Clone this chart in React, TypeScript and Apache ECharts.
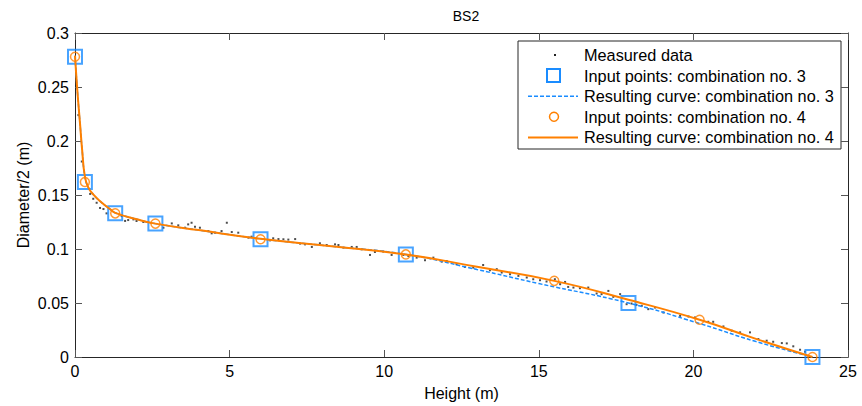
import React, { useEffect, useRef } from "react";
import * as echarts from "echarts";

const xTicks = [0, 5, 10, 15, 20, 25];
const yTicks = [0, 0.05, 0.1, 0.15, 0.2, 0.25, 0.3];

const measured: number[][] = [
  [0.11, 0.224], [0.22, 0.181], [0.49, 0.151], [0.59, 0.1465], [0.7, 0.1428], [0.81, 0.138], [0.92, 0.137], [1.02, 0.133],
  [1.51, 0.1305], [1.62, 0.126], [1.72, 0.1268], [1.89, 0.1274], [1.99, 0.1259], [2.21, 0.125], [2.32, 0.125], [2.86, 0.1197],
  [3.13, 0.1237], [3.34, 0.1219], [3.56, 0.1197], [3.66, 0.1228], [3.77, 0.1243], [3.88, 0.1206], [4.04, 0.1197], [4.31, 0.1166],
  [4.42, 0.1145], [4.53, 0.1151], [4.74, 0.1166], [4.91, 0.1243], [5.07, 0.1157], [5.28, 0.1151], [5.61, 0.1105], [5.71, 0.1114],
  [6.31, 0.108], [6.41, 0.1099], [6.58, 0.1092], [6.74, 0.109], [6.9, 0.1087], [7.12, 0.1092], [7.28, 0.105], [7.44, 0.1043],
  [7.66, 0.1019], [7.92, 0.1053], [8.14, 0.1037], [8.41, 0.1043], [8.52, 0.1037], [8.68, 0.1013], [8.95, 0.1019], [9.11, 0.1019],
  [9.27, 0.0997], [9.54, 0.0945], [9.7, 0.0972], [9.97, 0.0976], [10.24, 0.0945], [10.62, 0.0945], [10.78, 0.0936], [11.05, 0.092],
  [11.32, 0.0896], [11.59, 0.092], [11.86, 0.0883], [12.02, 0.0889], [12.34, 0.0859], [12.61, 0.0834], [12.88, 0.0828], [13.2, 0.0852],
  [13.42, 0.0803], [13.64, 0.0813], [13.8, 0.0782], [14.07, 0.0766], [14.34, 0.0751], [14.61, 0.0736], [14.82, 0.072], [15.04, 0.0711],
  [15.25, 0.0699], [15.52, 0.072], [15.69, 0.0674], [15.85, 0.0695], [15.95, 0.0649], [16.12, 0.0643], [16.33, 0.0637], [16.6, 0.0643],
  [16.87, 0.0588], [17.03, 0.0582], [17.25, 0.0612], [17.41, 0.0557], [17.63, 0.0582], [17.84, 0.0489], [18.0, 0.0495], [18.16, 0.0483],
  [18.33, 0.0474], [18.54, 0.0443], [18.76, 0.0458], [19.03, 0.0412], [19.57, 0.0381], [19.84, 0.0375], [20.05, 0.0366], [20.48, 0.0326],
  [20.64, 0.0326], [20.97, 0.0283], [21.24, 0.0243], [21.51, 0.0228], [21.83, 0.0228], [22.1, 0.0166], [22.37, 0.0151], [22.58, 0.0141],
  [22.86, 0.0129], [23.02, 0.0126], [23.23, 0.0099], [23.45, 0.0067], [23.61, 0.0049],
];

const inputPoints3: number[][] = [
  [0, 0.278], [0.32, 0.162], [1.3, 0.133], [2.6, 0.1235], [6.0, 0.109], [10.7, 0.095], [17.9, 0.05], [23.85, 0],
];
const inputPoints4: number[][] = [
  [0, 0.278], [0.32, 0.162], [1.3, 0.133], [2.6, 0.1235], [6.0, 0.109], [10.7, 0.095], [15.5, 0.0705], [20.2, 0.0345], [23.85, 0],
];

const curve3: number[][] = [
  [0, 0.279], [0.075, 0.247], [0.16, 0.217], [0.23, 0.192], [0.32, 0.167], [0.43, 0.157], [0.59, 0.1505], [0.86, 0.143],
  [1.13, 0.137], [1.3, 0.1335], [2.0, 0.1275], [2.6, 0.1235], [4.0, 0.1175], [6.0, 0.1095],
  [8.3, 0.1025], [10.7, 0.095], [13.0, 0.081], [15.0, 0.068], [17.9, 0.05],
  [20.2, 0.031], [22.0, 0.0145], [23.85, 0],
];
const curve4: number[][] = [
  [0, 0.279], [0.075, 0.247], [0.16, 0.217], [0.23, 0.192], [0.32, 0.167], [0.43, 0.157], [0.59, 0.1505], [0.86, 0.143],
  [1.13, 0.137], [1.3, 0.1335], [2.0, 0.1275], [2.6, 0.1235], [4.0, 0.1175], [6.0, 0.1095],
  [8.3, 0.1025], [10.7, 0.095], [13.0, 0.0835], [15.5, 0.0705], [17.9, 0.053],
  [20.2, 0.0345], [22.0, 0.017], [23.85, 0],
];

const legendLabels = [
  "Measured data",
  "Input points: combination no. 3",
  "Resulting curve: combination no. 3",
  "Input points: combination no. 4",
  "Resulting curve: combination no. 4",
];

const BLUE = "#1a8cff";
const ORANGE = "#ff8000";
const FONT = "'Liberation Sans', Arial, Helvetica, sans-serif";
const AXIS = "#262626";

export default function App() {
  const ref = useRef<HTMLDivElement>(null);
  useEffect(() => {
    document.body.style.margin = "0";
    const chart = echarts.init(ref.current!, null, { renderer: "svg" });
    const commonAxis = {
      axisLine: { show: true, onZero: false, lineStyle: { color: AXIS, width: 1 } },
      axisTick: { show: true, inside: true, length: 7, lineStyle: { color: "#555" } },
      splitLine: { show: false },
    };
    const legendX = 518, legendY = 41, rowH = 20.6, row0 = 55;
    const legendItems: any[] = [
      { type: "rect", shape: { x: legendX, y: legendY, width: 323, height: 108 }, style: { fill: "#fff", stroke: AXIS, lineWidth: 1 } },
      { type: "rect", shape: { x: 554, y: row0 - 1, width: 2, height: 2 }, style: { fill: "#222" } },
      { type: "rect", shape: { x: 547, y: row0 + rowH - 6.5, width: 13, height: 13 }, style: { fill: "none", stroke: BLUE, lineWidth: 2 } },
      { type: "line", shape: { x1: 528, y1: row0 + 2 * rowH, x2: 578, y2: row0 + 2 * rowH }, style: { stroke: BLUE, lineWidth: 1.5, lineDash: [4, 2] } },
      { type: "circle", shape: { cx: 554, cy: row0 + 3 * rowH, r: 4.5 }, style: { fill: "none", stroke: ORANGE, lineWidth: 1.5 } },
      { type: "line", shape: { x1: 528, y1: row0 + 4 * rowH, x2: 578, y2: row0 + 4 * rowH }, style: { stroke: ORANGE, lineWidth: 2 } },
    ];
    legendLabels.forEach((t, i) => {
      legendItems.push({
        type: "text",
        x: 584,
        y: row0 + i * rowH,
        style: { text: t, fill: "#000", font: `16.3px ${FONT}`, textVerticalAlign: "middle", verticalAlign: "middle" },
      });
    });

    chart.setOption({
      animation: false,
      backgroundColor: "#fff",
      textStyle: { fontFamily: FONT },
      title: {
        text: "BS2",
        left: 461,
        top: 4,
        textAlign: "center",
        textStyle: { fontSize: 14, fontWeight: "normal", color: "#000", fontFamily: FONT },
      },
      grid: { left: 75, top: 33, right: 14, bottom: 48, containLabel: false },
      xAxis: [
        {
          type: "value",
          min: xTicks[0],
          max: xTicks[xTicks.length - 1],
          interval: 5,
          name: "Height (m)",
          nameLocation: "middle",
          nameGap: 28,
          nameMoveOverlap: false,
          nameTextStyle: { fontSize: 16, color: "#000", fontFamily: FONT },
          axisLabel: { fontSize: 16, color: "#000", margin: 6, fontFamily: FONT },
          ...commonAxis,
        },
        {
          type: "value",
          position: "top",
          min: xTicks[0],
          max: xTicks[xTicks.length - 1],
          interval: 5,
          axisLabel: { show: false },
          ...commonAxis,
        },
      ],
      yAxis: [
        {
          type: "value",
          min: yTicks[0],
          max: yTicks[yTicks.length - 1],
          interval: 0.05,
          name: "Diameter/2 (m)",
          nameLocation: "middle",
          nameGap: 44,
          nameMoveOverlap: false,
          nameRotate: 90,
          nameTextStyle: { fontSize: 16, color: "#000", fontFamily: FONT },
          axisLabel: { fontSize: 16, color: "#000", margin: 6, fontFamily: FONT, formatter: (v: number) => String(+v.toFixed(2)) },
          ...commonAxis,
        },
        {
          type: "value",
          position: "right",
          min: yTicks[0],
          max: yTicks[yTicks.length - 1],
          interval: 0.05,
          axisLabel: { show: false },
          ...commonAxis,
        },
      ],
      series: [
        {
          name: legendLabels[0],
          type: "scatter",
          data: measured,
          symbol: "rect",
          symbolSize: 2,
          itemStyle: { color: "#222" },
          z: 2,
        },
        {
          name: legendLabels[1],
          type: "scatter",
          data: inputPoints3,
          symbol: "rect",
          symbolSize: 14,
          itemStyle: { color: "rgba(255,255,255,0)", borderColor: BLUE, borderWidth: 2 },
          z: 3,
        },
        {
          name: legendLabels[2],
          type: "line",
          data: curve3,
          showSymbol: false,
          smooth: 0.5,
          lineStyle: { color: BLUE, width: 1.5, type: [4, 2] },
          z: 4,
        },
        {
          name: legendLabels[3],
          type: "scatter",
          data: inputPoints4,
          symbol: "circle",
          symbolSize: 9,
          itemStyle: { color: "rgba(255,255,255,0)", borderColor: ORANGE, borderWidth: 1.5 },
          z: 5,
        },
        {
          name: legendLabels[4],
          type: "line",
          data: curve4,
          showSymbol: false,
          smooth: 0.5,
          lineStyle: { color: ORANGE, width: 2 },
          z: 6,
        },
      ],
      graphic: { elements: legendItems },
    });
    return () => chart.dispose();
  }, []);
  return <div ref={ref} style={{ width: 862, height: 406 }} />;
}
